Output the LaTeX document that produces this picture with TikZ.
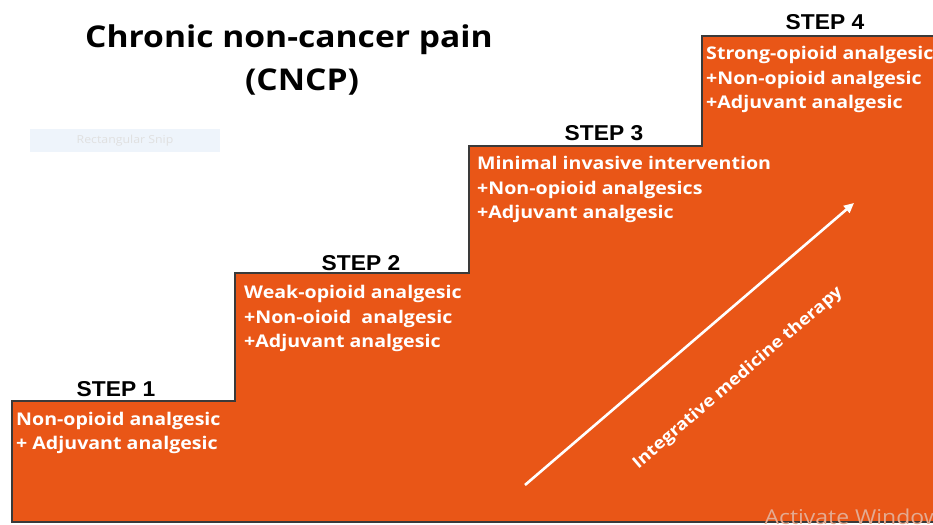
\documentclass[tikz,border=0pt]{standalone}
\usepackage{fontspec}
\setmainfont{Open Sans}[FakeStretch=1.12]
\newfontfamily\headfont{Liberation Sans}[FakeStretch=1.06]
\usetikzlibrary{arrows.meta,positioning,calc}

\definecolor{stairorange}{RGB}{233,86,23}
\definecolor{stairedge}{RGB}{58,58,58}
\definecolor{snipblue}{RGB}{238,244,251}

\tikzset{
  stair/.style={fill=stairorange, draw=stairedge, line width=1.8pt},
  steplabel/.style={font=\headfont\bfseries\fontsize{21.5}{24}\selectfont, inner sep=0pt},
  druglist/.style={font=\bfseries\fontsize{17.5}{24.5}\selectfont, text=white,
                   align=left, anchor=north west, inner sep=0pt},
  therapy/.style={font=\bfseries\fontsize{16.6}{20}\selectfont, text=white,
                  rotate=40.6, inner sep=0pt},
  heading/.style={font=\bfseries\fontsize{30}{36}\selectfont},
}

\begin{document}
\begin{tikzpicture}[x=1pt,y=1pt]
  \useasboundingbox (0,0) rectangle (933,524);
  \clip (0,0) rectangle (933,524);

  % corners of the four treads
  \coordinate (c1) at (12,123);
  \coordinate (c2) at (235,251);
  \coordinate (c3) at (469,378);
  \coordinate (c4) at (702,488);

  \draw[stair] (12,2) -- (c1) -- (c1 -| c2) -- (c2) -- (c2 -| c3) -- (c3)
               -- (c3 -| c4) -- (c4) -- (945,488) -- (945,2) -- cycle;

  % title
  \node[heading] (title) at (289,484) {Chronic non-cancer pain};
  \node[heading] (cncp)  at (302,442) {(CNCP)};

  % snipping tool leftover
  \node[fill=snipblue, text=black!12, font=\fontsize{11}{12}\selectfont,
        minimum width=190pt, minimum height=23pt] (snip) at (125,383) {Rectangular Snip};

  \node[steplabel] (step1) at (116,135) {STEP 1};
  \node[steplabel] (step2) at (361,261) {STEP 2};
  \node[steplabel] (step3) at (604,391) {STEP 3};
  \node[steplabel] (step4) at (825,502) {STEP 4};

  \node[druglist] (drugs1) at (16,112) {Non-opioid analgesic\\+ Adjuvant analgesic};
  \node[druglist] (drugs2) at (244,238.5) {Weak-opioid analgesic\\+Non-oioid\ \ analgesic\\+Adjuvant analgesic};
  \node[druglist] (drugs3) at (477,367.5) {Minimal invasive intervention\\+Non-opioid analgesics\\+Adjuvant analgesic};
  \node[druglist] (drugs4) at (706,477.5) {Strong-opioid analgesic\\+Non-opioid analgesic\\+Adjuvant analgesic};

  % integrative medicine runs alongside every step
  \coordinate (a0) at (525,39);
  \coordinate (a1) at (854,321);
  \draw[white, line width=2.6pt, -{Triangle[length=10pt,width=9pt]}] (a0) -- (a1);
  \node[therapy] (imt) at (738,146) {Integrative medicine therapy};

  \node[anchor=base west, text=stairorange!45!white!85!gray, font=\fontsize{20.5}{24}\selectfont]
       (watermark) at (761,0) {Activate Windows};
\end{tikzpicture}
\end{document}
